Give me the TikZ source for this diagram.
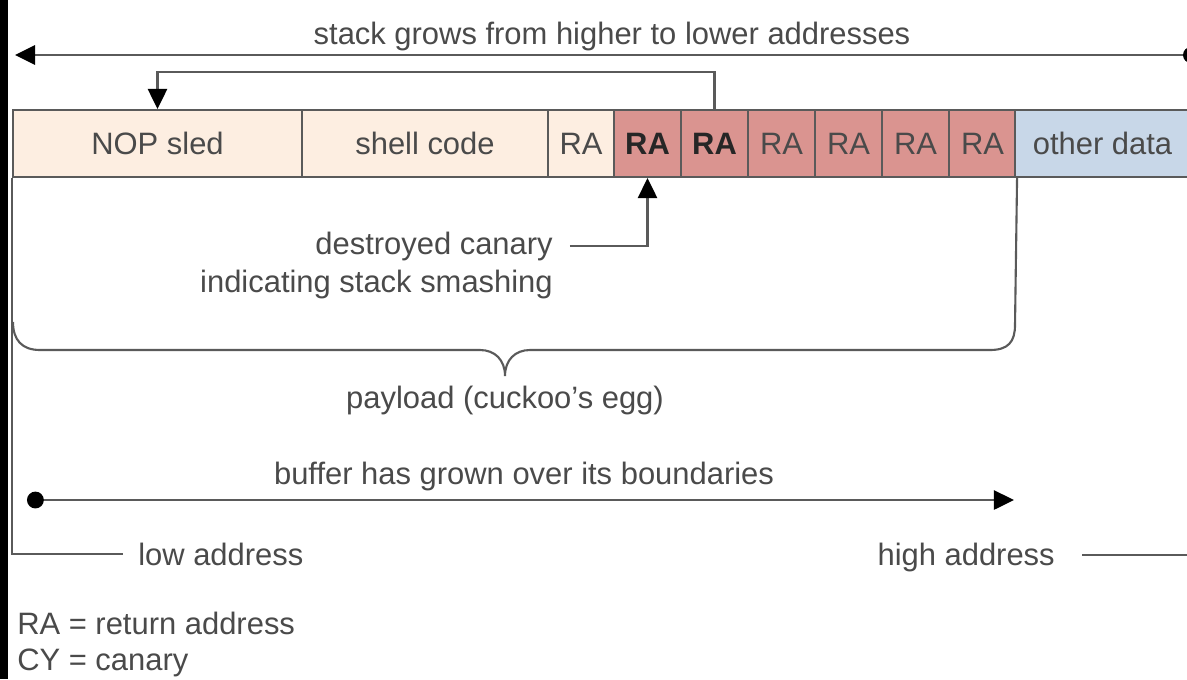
\documentclass[tikz,border=0pt]{standalone}
\usepackage{fontspec}
\setmainfont{Liberation Sans}
\usepackage{tikz}
\usetikzlibrary{arrows.meta}

\definecolor{linegray}{HTML}{5A5A5A}
\definecolor{txtgray}{HTML}{4A4A4A}
\definecolor{cream}{HTML}{FDEEE1}
\definecolor{canaryred}{HTML}{DA9490}
\definecolor{otherblue}{HTML}{C8D7E8}

\begin{document}
\begin{tikzpicture}[x=0.025cm, y=-0.025cm]
  \tikzstyle{cell}=[rectangle, draw=linegray, line width=1.5pt, minimum height=1.675cm, inner sep=0pt, text=txtgray, font=\fontsize{22}{26}\selectfont]
  \tikzstyle{ra}=[cell, minimum width=1.675cm]
  \tikzstyle{smashed}=[ra, fill=canaryred, text=black!85, font=\fontsize{22}{26}\selectfont\bfseries]
  \tikzstyle{lbl}=[inner sep=0pt, text=txtgray, font=\fontsize{22}{26}\selectfont]
  \tikzstyle{wire}=[draw=linegray, line width=1.5pt]
  \tikzstyle{arrow}=[wire, -{Triangle[length=0.5cm,width=0.48cm,color=black]}]

  \fill[white] (0,0) rectangle (1187,679);
  \useasboundingbox (0,0) rectangle (1187,679);
  \fill[black] (0,0) rectangle (8,679);

  % the stack
  \node[cell, fill=cream, minimum width=7.225cm] (nop) at (157.5,143.5) {NOP sled};
  \node[cell, fill=cream, minimum width=6.15cm] (shell) at (425,143.5) {shell code};
  \node[ra, fill=cream, minimum width=1.65cm] (ra1) at (581,143.5) {RA};
  \node[smashed] (ra2) at (647.5,143.5) {RA};
  \node[smashed] (ra3) at (714.5,143.5) {RA};
  \node[ra, fill=canaryred] (ra4) at (781.5,143.5) {RA};
  \node[ra, fill=canaryred] (ra5) at (848.5,143.5) {RA};
  \node[ra, fill=canaryred] (ra6) at (915.5,143.5) {RA};
  \node[ra, fill=canaryred] (ra7) at (982.5,143.5) {RA};
  \node[cell, fill=otherblue, minimum width=4.375cm] (other) at (1102.5,143.5) {other data};

  % growth direction
  \node[lbl] (grows) at (612,36) {stack grows from higher to lower addresses};
  \coordinate (stackL) at (15,55);
  \coordinate (stackR) at (1199,55);
  \draw[wire, {Circle[length=0.4cm,color=black]}-{Triangle[length=0.5cm,width=0.48cm,color=black]}] (stackR) -- (stackL);

  % jump back into the sled
  \draw[arrow] (ra3.north) -- ++(0,-37) -| (nop.north);

  % canary
  \node[lbl, anchor=east] (destroyed) at (553,246) {destroyed canary};
  \node[lbl, anchor=east] (smashing) at (553,284) {indicating stack smashing};
  \draw[arrow] ([xshift=0.42cm]destroyed.east) -| (ra2.south);

  % payload brace
  \draw[wire] (13,322) .. controls (13,340) and (22,350) .. (40,350) -- (480,350)
    .. controls (495,350) and (505,360) .. (505,376)
    .. controls (505,360) and (515,350) .. (530,350) -- (990,350)
    .. controls (1008,350) and (1015,342) .. (1015,325) -- (ra7.south east);
  \node[lbl] (payload) at (505,400) {payload (cuckoo's egg)};

  % overflow
  \node[lbl] (buffer) at (524,476) {buffer has grown over its boundaries};
  \coordinate (bufL) at (27,500);
  \draw[wire, {Circle[length=0.42cm,color=black]}-{Triangle[length=0.5cm,width=0.48cm,color=black]}] (bufL) -- (other.south west |- bufL);

  % addresses
  \node[lbl, anchor=west] (lowaddr) at (138,554) {low address};
  \draw[wire] (nop.south west) |- ([xshift=-0.375cm]lowaddr.west);
  \node[lbl, anchor=east] (highaddr) at (1055,557) {high address};
  \coordinate (hiL) at (1082,555);
  \coordinate (hiR) at (1199,555);
  \draw[wire] (hiL) -- (hiR);

  % legend
  \node[lbl, anchor=west] (legra) at (17,623) {RA = return address};
  \node[lbl, anchor=west] (legcy) at (17,663) {CY = canary};
\end{tikzpicture}
\end{document}
